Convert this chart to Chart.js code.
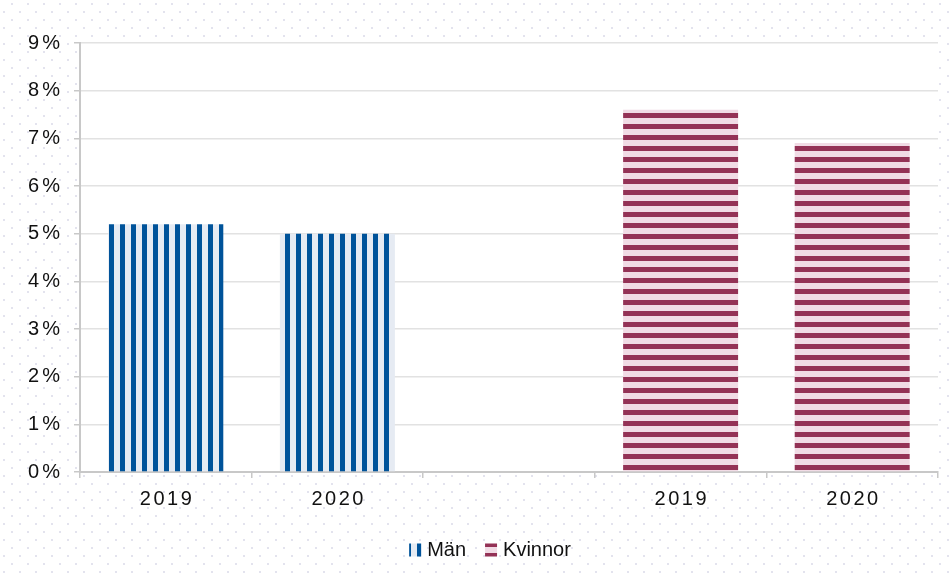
<!DOCTYPE html>
<html>
<head>
<meta charset="utf-8">
<script src="https://cdn.jsdelivr.net/npm/chart.js@4.4.1/dist/chart.umd.min.js"></script>
<style>
  html, body { margin: 0; padding: 0; background: #ffffff; }
  #wrap { width: 949px; height: 577px; position: relative; }
</style>
</head>
<body>
<div id="wrap"><canvas id="c" width="949" height="577"></canvas></div>
<script>
// ---- data ----
const categories = ['2019', '2020', '', '2019', '2020'];
const seriesNames = ['Män', 'Kvinnor'];
const manValues = [5.2, 5.0, null, null, null];
const kvinnorValues = [null, null, null, 7.6, 6.9];
const yTickValues = [0, 1, 2, 3, 4, 5, 6, 7, 8, 9];

const canvas = document.getElementById('c');
const c2d = canvas.getContext('2d');

// letter spacing per text role (y ticks right-aligned, x ticks centred, legend left-aligned)
const origFillText = c2d.fillText;
c2d.fillText = function (text, x, y, maxW) {
  const prev = this.letterSpacing;
  let dx = 0;
  if (this.textAlign === 'right') { this.letterSpacing = '3px'; dx = 3; }
  else if (this.textAlign === 'center') { this.letterSpacing = '2.5px'; dx = 1.25; }
  else { this.letterSpacing = '0px'; dx = -4; }
  origFillText.call(this, text, x + dx, y);
  this.letterSpacing = prev;
};

// ---- patterns ----
function stripePattern(vertical, dark, light, offset) {
  const t = document.createElement('canvas');
  t.width = 11; t.height = 11;
  const g = t.getContext('2d');
  g.fillStyle = light; g.fillRect(0, 0, 11, 11);
  g.fillStyle = dark;
  if (vertical) g.fillRect(0, 0, 5, 11); else g.fillRect(0, 0, 11, 5);
  const p = c2d.createPattern(t, 'repeat');
  const m = new DOMMatrix();
  p.setTransform(vertical ? m.translate(offset, 0) : m.translate(0, offset));
  return p;
}
const blueStripes = stripePattern(true, '#00539a', '#e6ebf3', 10);
const redStripes = stripePattern(false, '#943256', '#f1dbe5', 3);

function dotPattern() {
  const t = document.createElement('canvas');
  t.width = 16; t.height = 16;
  const g = t.getContext('2d');
  g.fillStyle = '#ffffff'; g.fillRect(0, 0, 16, 16);
  g.fillStyle = '#e3e3ee';
  g.fillRect(3, 11, 2, 2);
  g.fillRect(11, 3, 2, 2);
  return c2d.createPattern(t, 'repeat');
}
const dots = dotPattern();

const bgPlugin = {
  id: 'bgPlugin',
  beforeDraw(chart) {
    const ctx = chart.ctx;
    ctx.save();
    ctx.fillStyle = dots;
    ctx.fillRect(0, 0, chart.width, chart.height);
    const a = chart.chartArea;
    ctx.fillStyle = '#ffffff';
    ctx.fillRect(a.left, a.top, a.right - a.left, a.bottom - a.top);
    ctx.restore();
  }
};

new Chart(canvas, {
  type: 'bar',
  data: {
    labels: categories,
    datasets: [
      { label: seriesNames[0], data: manValues, backgroundColor: blueStripes, borderWidth: 0 },
      { label: seriesNames[1], data: kvinnorValues, backgroundColor: redStripes, borderWidth: 0 }
    ]
  },
  options: {
    responsive: false,
    animation: false,
    devicePixelRatio: 1,
    layout: { padding: { left: 46, right: 11, top: 43, bottom: 7 } },
    datasets: { bar: { grouped: false, barPercentage: 0.67, categoryPercentage: 1.0 } },
    scales: {
      x: {
        offset: true,
        grid: { offset: true, drawOnChartArea: false, drawTicks: true, tickLength: 6, color: '#c8c8c8', lineWidth: 1.5 },
        border: { display: true, color: '#c8c8c8', width: 2 },
        ticks: { font: { family: 'Liberation Sans', size: 20 }, color: '#111111', padding: 9, maxRotation: 0, autoSkip: false },
        afterFit(scale) { scale.height = 53; }
      },
      y: {
        min: 0, max: 9,
        afterBuildTicks(scale) { scale.ticks = yTickValues.map(v => ({ value: v })); },
        grid: { color: '#e2e2e2', lineWidth: 1.5, drawTicks: true, tickLength: 6, tickColor: '#c8c8c8' },
        border: { display: true, color: '#c8c8c8', width: 2 },
        ticks: { font: { family: 'Liberation Sans', size: 20 }, color: '#111111', padding: 14,
                 callback: v => v + '%' },
        afterFit(scale) {
          scale.width = 34;
          scale._computeLabelArea = () => undefined; // labels may extend left of the axis box
        }
      }
    },
    plugins: {
      legend: {
        position: 'bottom',
        labels: { font: { family: 'Liberation Sans', size: 20 }, color: '#111111', boxWidth: 12, boxHeight: 13, padding: 15 }
      },
      tooltip: { enabled: false }
    }
  },
  plugins: [bgPlugin]
});
</script>
</body>
</html>
